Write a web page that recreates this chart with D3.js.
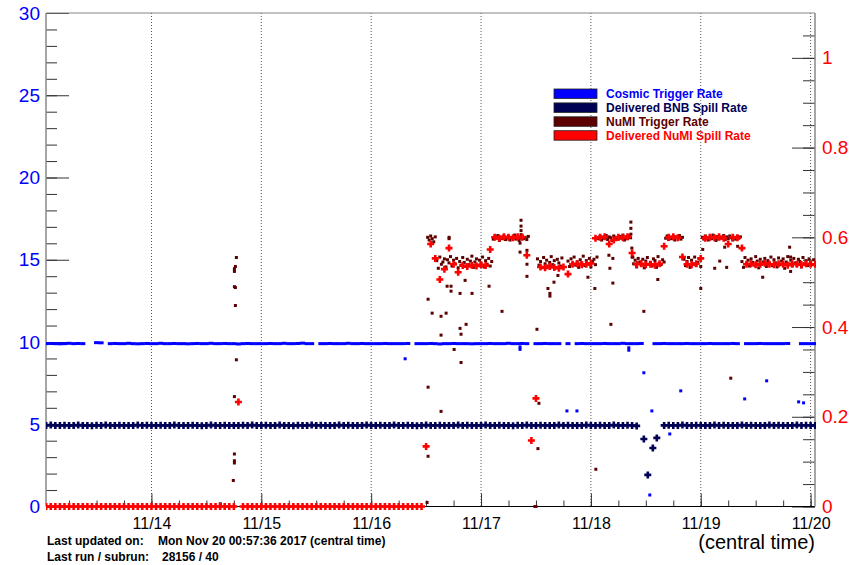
<!DOCTYPE html>
<html lang="en">
<head>
<meta charset="UTF-8">
<title>Trigger and Spill Rates</title>
<style>
    body {
        margin: 0;
        background-color: #FFFFFF;
    }
    svg {
        display: block;
        font-family: "Liberation Sans", Arial, Helvetica, sans-serif;
    }
</style>
</head>
<body>
<svg id="chart" width="861" height="565"></svg>

<script src="https://d3js.org/d3.v7.min.js"></script>
<script>
// ---- data ----
// hourly samples, first one at Nov 13 01:00 (central time)
const hourStart = new Date(2017, 10, 13, 1, 0, 0);

// Cosmic Trigger Rate (left axis), one value per hour, null = no data
const cosmicRate = [
    9.9,9.91,9.9,9.89,9.9,9.92,9.9,9.91,9.9,null,null,9.96,9.95,null,9.9,9.91,9.9,9.9,9.92,9.9,9.89,9.9,9.91,9.9,
    9.9,9.92,9.9,9.9,9.91,9.9,9.9,9.89,9.9,9.91,9.9,9.9,9.92,9.9,9.9,9.91,9.9,9.9,9.88,9.9,9.91,9.9,9.9,9.9,
    9.9,9.91,9.9,9.9,9.92,9.9,9.9,9.91,9.93,9.9,9.9,null,9.9,9.9,9.91,9.9,9.9,9.9,9.92,9.9,9.9,9.91,9.9,9.9,
    9.9,9.9,9.91,9.9,9.9,9.9,9.9,9.91,null,9.9,9.9,9.9,9.91,9.9,9.88,9.9,9.9,9.91,9.9,9.9,9.9,9.89,9.9,9.9,
    9.9,9.91,9.9,9.9,9.9,9.92,9.9,9.9,9.91,9.9,null,9.9,9.9,9.91,9.9,9.9,9.9,null,9.9,null,9.9,9.91,9.9,9.9,
    9.9,9.9,9.91,9.9,9.9,9.9,9.92,9.9,9.9,9.9,9.91,null,null,9.9,9.9,9.91,9.9,9.9,9.9,9.9,9.91,9.9,9.9,9.9,
    9.9,9.91,9.9,9.9,9.9,9.9,9.91,9.9,null,9.9,9.9,9.9,9.91,9.9,9.9,9.9,9.9,9.9,9.91,null,null,9.9,9.9,9.9,9.9
];
// isolated cosmic points: [days since Nov 13 00:00, rate]
const cosmicExtra = [
    [3.309,8.98],[4.355,9.55],[4.355,9.7],[4.782,5.81],[4.873,5.81],[5.345,9.5],[5.345,9.65],
    [5.482,8.13],[5.536,0.7],[5.555,5.81],[5.718,4.41],[5.818,7.03],[6.4,6.54],[6.6,7.64],
    [6.891,6.36],[6.936,6.3]
];

// Delivered BNB Spill Rate (left axis), hourly
const bnbRate = [
    4.93,4.95,4.92,4.93,4.94,4.93,4.92,4.95,4.93,4.93,4.91,4.94,4.93,4.95,4.92,4.93,4.94,4.93,4.92,4.93,4.95,4.93,4.94,4.92,
    4.93,4.94,4.92,4.93,4.95,4.93,4.92,4.93,4.94,4.93,4.91,4.93,4.95,4.92,4.93,4.94,4.93,4.92,4.93,4.94,4.93,4.95,4.92,4.93,
    4.94,4.93,4.92,4.95,4.93,4.93,4.91,4.94,4.93,4.92,4.95,4.93,4.94,4.92,4.93,4.93,4.95,4.92,4.94,4.93,4.92,4.93,4.95,4.93,
    4.92,4.94,4.93,4.93,4.95,4.92,4.93,4.94,4.93,4.91,4.93,4.95,4.93,4.92,4.94,4.93,4.93,4.92,4.95,4.93,4.94,4.92,4.93,4.93,
    4.95,4.93,4.92,4.94,4.93,4.93,4.91,4.94,4.93,4.95,4.92,4.93,4.94,4.93,4.92,4.93,4.95,4.93,4.94,4.92,4.93,4.93,4.95,4.92,
    4.93,4.94,4.92,4.93,4.95,4.93,4.92,4.94,4.93,4.9,null,null,null,null,null,4.93,4.94,4.92,4.93,4.95,4.93,4.92,4.94,4.93,
    4.93,4.92,4.95,4.93,4.94,4.93,4.92,4.93,4.95,4.93,4.94,4.92,4.93,4.93,4.95,4.92,4.94,4.93,4.93,4.92,4.95,4.93,4.94,4.93,4.93
];
const bnbExtra = [[5.482,4.1],[5.518,1.92],[5.564,3.56],[5.6,4.17]];

// NuMI Trigger Rate (right axis), every 20 minutes from Nov 16 12:00
const numiStart = new Date(2017, 10, 16, 12, 0, 0);
const numiTrigRate = [
    null,.6,.594,.603,.597,.59,.601,
    .548,.531,.556,.54,.545,.552,.534,.55,.543,.557,.536,.549,.541,.553,.532,.546,.538,.555,.544,.535,.551,.539,.547,.558,.533,.545,.552,.537,.549,.542,.556,.534,.548,.54,.553,.536,.546,
    .596,.601,.598,.604,.593,.6,.597,.603,.595,.599,.602,.594,.6,.598,.605,.596,.601,.593,.599,.603,.597,.6,.595,.602,
    null,null,null,null,null,
    .552,.538,.546,.533,.555,.541,.549,.536,.544,.557,.539,.548,.532,.551,.543,.536,.554,
    null,null,null,
    .547,.535,.552,.541,.556,.538,.545,.533,.55,.543,.558,.537,.548,.54,.553,.534,.546,.551,.539,.556,
    .597,.602,.594,.6,.598,.604,.595,.601,.599,.593,.603,.597,.6,.596,.602,.598,.605,.594,.601,.597,.603,.599,
    .556,.541,.549,.534,.553,.545,.538,.551,.532,.547,.555,.54,.544,.536,.552,.548,.533,.557,.542,.539,.55,.545,
    .598,.603,.595,.6,.597,.602,.594,.601,.599,.604,.596,.6,
    .551,.537,.546,.555,.533,.549,.541,.556,.538,.544,.552,.535,
    .6,.596,.603,.598,.594,.601,.597,.605,.599,.593,.602,.596,.6,.598,.604,.595,.601,.597,.603,.599,.594,.6,.596,.602,.598,.601,
    .546,.533,.555,.541,.549,.536,.552,.544,.538,.557,.547,.532,.551,.54,.545,.553,.535,.548,.542,.556,.537,.55,.543,.534,
    .554,.539,.547,.552,.531,.545,.557,.54,.549,.536,.553,.543,.538,.551,.546,.534,.555,.541,.548,.537,.552,.544,.539,.55
];
const numiTrigExtra = [
    [1.627,.006],[1.745,.058],[1.755,.097],[1.755,.102],[1.755,.117],[1.755,.245],[1.773,.327],[1.764,.448],
    [1.764,.488],[1.755,.49],[1.755,.524],[1.755,.53],[1.764,.535],[1.773,.555],
    [3.509,.009],[3.518,.112],[3.518,.266],[3.518,.462],[3.555,.431],[3.636,.212],[3.636,.382],[3.636,.424],
    [3.682,.431],[3.691,.491],[3.709,.6],[3.709,.597],[3.727,.491],[3.727,.48],[3.755,.35],[3.809,.475],
    [3.809,.397],[3.818,.384],[3.818,.321],[3.855,.504],[3.864,.406],[3.918,.475],
    [4.073,.491],[4.191,.435],[4.355,.587],[4.355,.567],[4.364,.638],[4.364,.625],[4.364,.615],[4.364,.606],
    [4.418,.571],[4.418,.54],[4.418,.513],[4.491,0],[4.5,0],[4.509,.395],[4.518,.129],[4.527,.23],
    [4.609,.486],[4.627,.475],[4.627,.469],[4.664,.5],[4.7,.515],[4.973,.511],[5.036,.486],[5.045,.083],
    [5.164,.56],[5.173,.531],[5.182,.406],[5.2,.553],[5.2,.498],
    [5.364,.634],[5.364,.62],[5.364,.607],[5.373,.576],[5.382,.556],[5.482,.435],[5.609,.506],
    [6.0,.486],[6.018,.573],[6.127,.531],[6.173,.547],[6.218,.578],[6.236,.533],[6.273,.286],[6.336,.58],
    [6.564,.511],[6.809,.578],[6.818,.556],[6.818,.524]
];

// Delivered NuMI Spill Rate (right axis), hourly
const numiSpillRate = [
    0,0,0,0,0,0,0,0,0,0,0,0,0,0,0,0,0,0,0,0,0,0,0,0,
    0,0,0,0,0,0,0,0,0,0,0,0,0,0,0,0,0,0,.233,0,0,0,0,0,
    0,0,0,0,0,0,0,0,0,0,0,0,0,0,0,0,0,0,0,0,0,0,0,0,
    0,0,0,0,0,0,0,0,0,0,0,.134,.585,.553,.506,.529,.576,.54,.522,.537,.535,.538,.536,.539,
    .537,.573,.6,.598,.601,.6,.599,.601,.6,.56,.147,.241,.534,.532,.535,.533,.531,.534,.518,.54,.541,.539,.54,.542,
    .598,.6,.601,.585,.594,.6,.599,.601,.565,.54,.541,.539,.54,.538,.541,.58,.6,.601,.599,.556,.54,.539,.541,.553,
    .598,.6,.599,.601,.598,.585,.6,.599,.576,.54,.541,.539,.54,.542,.54,.539,.541,.54,.538,.541,.54,.539,.541,.54,.54
];

const seriesNames = ["Cosmic Trigger Rate", "Delivered BNB Spill Rate", "NuMI Trigger Rate", "Delivered NuMI Spill Rate"];
const seriesColors = ["#0000ff", "#000055", "#5c0000", "#ff0000"];

const leftTicks = [0, 5, 10, 15, 20, 25, 30];
const rightTicks = [0, 0.2, 0.4, 0.6, 0.8, 1];

// ---- layout ----
const frame = { left: 46, right: 815, top: 13, bottom: 506.5 };
const dayZero = new Date(2017, 10, 13, 0, 0, 0);
const fromDay = d => new Date(+dayZero + d * 864e5);
const hourTime = i => new Date(+hourStart + i * 36e5);
const numiTime = j => new Date(+numiStart + j * 12e5);

const svg = d3.select("#chart");

const x = d3.scaleTime()
    .domain([new Date(2017, 10, 13, 0, 57, 36), new Date(2017, 10, 20, 0, 57, 36)])
    .range([frame.left, frame.right]);
const yLeft = d3.scaleLinear().domain([0, 30]).range([frame.bottom, frame.top]);
const yRight = d3.scaleLinear().domain([0, 1.1]).range([frame.bottom, frame.top]);

svg.append("rect").attr("width", 861).attr("height", 565).attr("fill", "#ffffff");

svg.append("defs").append("clipPath").attr("id", "clip")
    .append("rect")
    .attr("x", frame.left).attr("y", 0)
    .attr("width", frame.right - frame.left + 1).attr("height", 516);

// vertical dotted grid at every day
const days = x.ticks(d3.timeDay.every(1));
svg.append("g").selectAll("line")
    .data(days)
    .join("line")
    .attr("x1", d => x(d)).attr("x2", d => x(d))
    .attr("y1", frame.top).attr("y2", frame.bottom)
    .attr("stroke", "#555")
    .attr("stroke-width", 1)
    .attr("stroke-dasharray", "1,2");

// ---- axes ----
function styleAxis(g, color, size) {
    g.select(".domain").remove();
    g.selectAll(".tick line").attr("stroke", "#333").attr("stroke-width", 1);
    g.selectAll(".tick text").attr("fill", color).attr("font-size", size);
}

// x minor ticks (6 h) and major ticks (days)
svg.append("g")
    .attr("transform", `translate(0,${frame.bottom})`)
    .call(d3.axisBottom(x).ticks(d3.timeHour.every(6)).tickSize(-6).tickFormat(""))
    .call(g => styleAxis(g, "#000", 16));
svg.append("g")
    .attr("transform", `translate(0,${frame.bottom})`)
    .call(d3.axisBottom(x).ticks(d3.timeDay.every(1)).tickSize(-13).tickPadding(11)
        .tickFormat(d3.timeFormat("%m/%d")))
    .call(g => styleAxis(g, "#000", 16));

// left axis
svg.append("g")
    .attr("transform", `translate(${frame.left},0)`)
    .call(d3.axisLeft(yLeft).tickValues(d3.range(0, 31)).tickSize(-11).tickFormat(""))
    .call(g => styleAxis(g, "#0000ff", 19));
svg.append("g")
    .attr("transform", `translate(${frame.left},0)`)
    .call(d3.axisLeft(yLeft).tickValues(leftTicks).tickSize(-23).tickPadding(6))
    .call(g => styleAxis(g, "#0000ff", 19));

// right axis
svg.append("g")
    .attr("transform", `translate(${frame.right},0)`)
    .call(d3.axisRight(yRight).tickValues(d3.range(0, 1.1, 0.05)).tickSize(-12).tickFormat(""))
    .call(g => styleAxis(g, "#ff0000", 19));
svg.append("g")
    .attr("transform", `translate(${frame.right},0)`)
    .call(d3.axisRight(yRight).tickValues(rightTicks).tickSize(-23).tickPadding(7)
        .tickFormat(d => String(+d.toFixed(2))))
    .call(g => styleAxis(g, "#ff0000", 19));

// frame lines
svg.append("line")
    .attr("x1", frame.left).attr("x2", frame.right).attr("y1", frame.bottom).attr("y2", frame.bottom)
    .attr("stroke", "#000").attr("stroke-width", 1);
svg.append("line")
    .attr("x1", frame.left).attr("x2", frame.right).attr("y1", frame.top).attr("y2", frame.top)
    .attr("stroke", "#888").attr("stroke-width", 1.2);
svg.append("line")
    .attr("x1", frame.left).attr("x2", frame.left).attr("y1", frame.top).attr("y2", frame.bottom)
    .attr("stroke", "#888").attr("stroke-width", 1.5);
svg.append("line")
    .attr("x1", frame.right).attr("x2", frame.right).attr("y1", frame.top).attr("y2", frame.bottom)
    .attr("stroke", "#888").attr("stroke-width", 1.5);

// ---- markers ----
const plot = svg.append("g").attr("clip-path", "url(#clip)");
const plusPath = "M-3.5,0H3.5M0,-3.5V3.5";

const hourly = arr => arr.map((v, i) => ({ t: hourTime(i), v })).filter(d => d.v !== null);
const extra = arr => arr.map(([d, v]) => ({ t: fromDay(d), v }));

// cosmic: short bars that merge into a line
plot.append("g").selectAll("rect")
    .data(hourly(cosmicRate))
    .join("rect")
    .attr("x", d => x(d.t) - 2.5).attr("y", d => yLeft(d.v) - 1.5)
    .attr("width", 5).attr("height", 3)
    .attr("fill", seriesColors[0]);
plot.append("g").selectAll("rect")
    .data(extra(cosmicExtra))
    .join("rect")
    .attr("x", d => x(d.t) - 1.5).attr("y", d => yLeft(d.v) - 1.5)
    .attr("width", 3).attr("height", 3)
    .attr("fill", seriesColors[0]);

// BNB spill rate: plus markers
plot.append("g").selectAll("path")
    .data(hourly(bnbRate).concat(extra(bnbExtra)))
    .join("path")
    .attr("transform", d => `translate(${x(d.t)},${yLeft(d.v)})`)
    .attr("d", plusPath)
    .attr("stroke", seriesColors[1])
    .attr("stroke-width", 2.6)
    .attr("fill", "none");

// NuMI trigger rate: small squares
const numiDense = numiTrigRate.map((v, j) => ({ t: numiTime(j), v })).filter(d => d.v !== null);
plot.append("g").selectAll("rect")
    .data(numiDense.concat(extra(numiTrigExtra)))
    .join("rect")
    .attr("x", d => x(d.t) - 1.5).attr("y", d => yRight(d.v) - 1.5)
    .attr("width", 3).attr("height", 3)
    .attr("fill", seriesColors[2]);

// delivered NuMI spill rate: plus markers
plot.append("g").selectAll("path")
    .data(hourly(numiSpillRate))
    .join("path")
    .attr("transform", d => `translate(${x(d.t)},${yRight(d.v)})`)
    .attr("d", plusPath)
    .attr("stroke", seriesColors[3])
    .attr("stroke-width", 2.6)
    .attr("fill", "none");

// ---- legend ----
const legend = svg.append("g").attr("transform", "translate(554,89)");
seriesNames.forEach((name, i) => {
    const row = legend.append("g").attr("transform", `translate(0,${i * 13.9})`);
    row.append("rect")
        .attr("x", 0).attr("y", 0).attr("width", 43).attr("height", 9.5)
        .attr("fill", seriesColors[i])
        .attr("stroke", "#222").attr("stroke-width", 0.8);
    row.append("text")
        .attr("x", 52).attr("y", 4.8)
        .attr("dominant-baseline", "central")
        .attr("font-size", 12)
        .attr("font-weight", "bold")
        .attr("fill", seriesColors[i])
        .text(name);
});

// ---- texts under the plot ----
svg.append("text")
    .attr("x", frame.right).attr("y", 549)
    .attr("text-anchor", "end")
    .attr("font-size", 20)
    .attr("fill", "#000")
    .text("(central time)");

const info = svg.append("g").attr("font-size", 12).attr("font-weight", "bold").attr("fill", "#000");
info.append("text").attr("x", 47).attr("y", 545).text("Last updated on:");
info.append("text").attr("x", 158).attr("y", 545).text("Mon Nov 20 00:57:36 2017 (central time)");
info.append("text").attr("x", 47).attr("y", 561).text("Last run / subrun:");
info.append("text").attr("x", 162).attr("y", 561).text("28156 / 40");
</script>
</body>
</html>
